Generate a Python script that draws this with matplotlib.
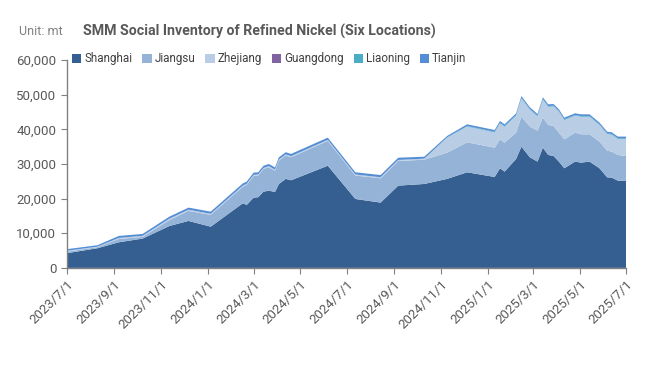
import numpy as np
import pandas as pd
import matplotlib
matplotlib.use("Agg")
import matplotlib.pyplot as plt
from matplotlib.patches import Patch

plt.rcParams['font.family'] = ['Roboto', 'DejaVu Sans']

# Datos (mt)
fechas = ["2023-07-01", "2023-08-10", "2023-09-07", "2023-10-08", "2023-11-12",
          "2023-12-07", "2024-01-05", "2024-02-16", "2024-02-21", "2024-03-01",
          "2024-03-07", "2024-03-14", "2024-03-21", "2024-03-29", "2024-04-03",
          "2024-04-12", "2024-04-19", "2024-06-06", "2024-07-12", "2024-08-14",
          "2024-09-06", "2024-10-10", "2024-11-09", "2024-12-05", "2025-01-10",
          "2025-01-17", "2025-01-23", "2025-02-07", "2025-02-14", "2025-02-25",
          "2025-03-07", "2025-03-14", "2025-03-21", "2025-03-28", "2025-04-04",
          "2025-04-11", "2025-04-25", "2025-05-03", "2025-05-14", "2025-05-27",
          "2025-06-06", "2025-06-12", "2025-06-20", "2025-07-01"]

shanghai = [4240, 5680, 7400, 8460, 12100, 13560, 11900, 18660, 18170, 20280,
            20400, 22000, 22300, 21900, 24200, 25700, 25300, 29500, 19900, 18850,
            23750, 24230, 25700, 27600, 26250, 28760, 27800, 31450, 35000, 31930,
            30680, 34720, 32600, 32300, 30680, 28760, 30680, 30390, 30680, 28760,
            26150, 26060, 25190, 25190]
jiangsu = [450, 300, 950, 500, 1700, 2890, 3400, 4800, 5790, 6280,
           6260, 6560, 6760, 6160, 6760, 6760, 6660, 7160, 6760, 7010,
           7110, 7000, 7560, 8650, 8450, 8340, 8350, 7580, 8650, 8850,
           8930, 8650, 8660, 8670, 8350, 8340, 8350, 8170, 7880, 7690,
           7700, 7500, 7410, 7110]
zhejiang = [250, 150, 300, 300, 400, 350, 300, 300, 300, 300,
            300, 300, 300, 300, 300, 300, 300, 300, 300, 300,
            300, 300, 4340, 4550, 4400, 4600, 4600, 4870, 5250, 4880,
            4120, 5180, 5260, 5630, 6050, 5570, 4890, 5070, 5070, 4780,
            4770, 4880, 4600, 4900]
guangdong = [0] * 44
liaoning = [0] * 22 + [100, 150, 200] + [200] * 19
tianjin = [460, 420, 580, 540, 600, 600, 640, 640, 640, 640,
           640, 640, 640, 640, 640, 640, 640, 640, 640, 640,
           640, 570, 400, 500, 500, 500, 500, 500, 500, 500,
           500, 500, 500, 500, 500, 500, 500, 500, 500, 500,
           500, 500, 500, 500]

regiones = ["Shanghai", "Jiangsu", "Zhejiang", "Guangdong", "Liaoning", "Tianjin"]
colores = ["#365F91", "#95B3D7", "#B9CDE5", "#8064A2", "#4BACC6", "#558ED5"]

x = pd.to_datetime(fechas)
gris = "#595959"

fig = plt.figure(figsize=(6.49, 3.80), dpi=100)
ax = fig.add_axes([0.103, 0.295, 0.862, 0.547])

ax.stackplot(x, shanghai, jiangsu, zhejiang, guangdong, liaoning, tianjin,
             colors=colores, linewidth=0)

ax.set_ylim(0, 60000)
ax.set_xlim(pd.Timestamp("2023-07-01"), pd.Timestamp("2025-07-01"))
ax.set_yticks(np.arange(0, 60001, 10000))
ax.yaxis.set_major_formatter(matplotlib.ticker.FuncFormatter(lambda v, p: f"{int(v):,}"))

ticks = pd.date_range("2023-07-01", "2025-07-01", freq="2MS")
ax.set_xticks(ticks)
ax.set_xticklabels([f"{d.year}/{d.month}/{d.day}" for d in ticks],
                   rotation=45, ha="right", rotation_mode="anchor")

for s in ["top", "right"]:
    ax.spines[s].set_visible(False)
for s in ["left", "bottom"]:
    ax.spines[s].set_color("#808080")
    ax.spines[s].set_linewidth(1.0)
ax.tick_params(colors="#808080", labelcolor=gris, labelsize=9.5, length=4)

fig.text(0.03, 0.918, "Unit: mt", color="#808080", fontsize=9, va="center")
fig.text(0.40, 0.918, "SMM Social Inventory of Refined Nickel (Six Locations)",
         color=gris, fontsize=10.2, fontweight="bold", ha="center", va="center")

handles = [Patch(facecolor=c, edgecolor="none") for c in colores]
fig.legend(handles, regiones, loc="center left", bbox_to_anchor=(0.095, 0.845),
           ncol=6, frameon=False, handlelength=0.8, handleheight=0.8,
           handletextpad=0.25, columnspacing=0.85, labelcolor="#404040",
           fontsize=8.4)

fig.savefig("out.png", dpi=100)
